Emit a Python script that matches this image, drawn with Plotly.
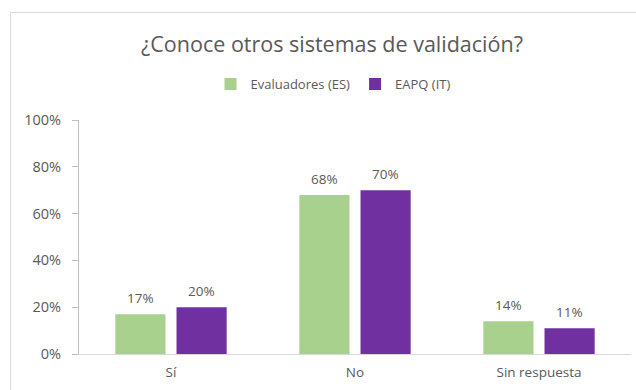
import plotly.graph_objects as go

categories = ["Sí", "No", "Sin respuesta"]
evaluadores_es = [17, 68, 14]
eapq_it = [20, 70, 11]
series_names = ["Evaluadores (ES)", "EAPQ (IT)"]
y_ticks = [0, 20, 40, 60, 80, 100]

GREEN = "#A9D18E"
PURPLE = "#7030A0"
TEXT = "#595959"
FONT = "Open Sans"

W, H = 636, 390
L, R, T, B = 79, 5, 120, 36

fig = go.Figure()
series = [(series_names[0], evaluadores_es, GREEN, -30.5),
          (series_names[1], eapq_it, PURPLE, 30.5)]
for name, vals, color, shift in series:
    fig.add_trace(go.Bar(
        x=categories, y=vals, name=name, marker_color=color,
        marker_line_width=0,
    ))
    # value labels above each bar
    for cat, v in zip(categories, vals):
        fig.add_annotation(x=cat, y=v, text=f"{v}%", showarrow=False,
                           xshift=shift, yanchor="bottom", yshift=5,
                           font=dict(family=FONT, size=13.5, color=TEXT))

# chart frame (left and top edges)
def px_x(p):
    return (p - L) / (W - L - R)

def px_y(p):
    return (H - B - p) / (H - T - B)

fig.add_shape(type="line", xref="paper", yref="paper",
              x0=px_x(10.5), x1=px_x(10.5), y0=px_y(12.5), y1=px_y(400),
              line=dict(color="#D9D9D9", width=1))
fig.add_shape(type="line", xref="paper", yref="paper",
              x0=px_x(10.5), x1=px_x(650), y0=px_y(12.5), y1=px_y(12.5),
              line=dict(color="#D9D9D9", width=1))

fig.update_layout(
    width=W, height=H,
    margin=dict(l=L, r=R, t=T, b=B),
    paper_bgcolor="white", plot_bgcolor="white",
    barmode="group", bargap=0.335, bargroupgap=0.18,
    title=dict(text="¿Conoce otros sistemas de validación?",
               x=332 / W, xanchor="center", y=1 - 44 / H, yanchor="middle",
               font=dict(family=FONT, size=21.5, color=TEXT)),
    legend=dict(orientation="h", x=333 / W, xref="container", xanchor="center",
                y=1 - 84 / H, yref="container", yanchor="middle",
                font=dict(family=FONT, size=13, color=TEXT),
                itemwidth=30, traceorder="normal"),
    font=dict(family=FONT, color=TEXT),
    showlegend=True,
)
fig.update_xaxes(showline=True, linecolor="#D9D9D9", linewidth=1,
                 ticks="", tickfont=dict(family=FONT, size=13.5, color=TEXT),
                 ticklabelstandoff=6, showgrid=False)
fig.update_yaxes(range=[0, 100], tickvals=y_ticks,
                 ticktext=[f"{v}%" for v in y_ticks],
                 showline=True, linecolor="#BFBFBF", linewidth=1,
                 ticks="outside", ticklen=6, tickcolor="#BFBFBF",
                 tickfont=dict(family=FONT, size=14.5, color=TEXT),
                 ticklabelstandoff=8, showgrid=False, zeroline=False)

fig.write_html("out.html")
